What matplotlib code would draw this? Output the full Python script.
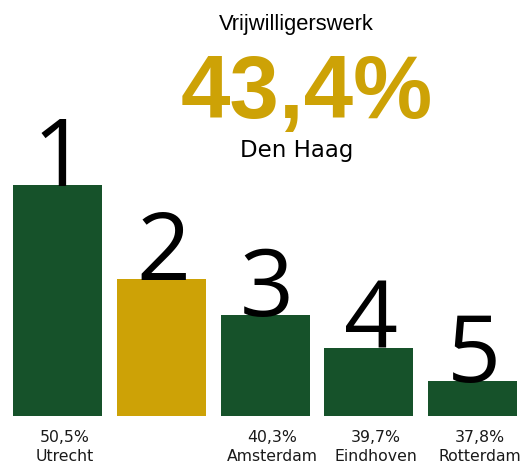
import matplotlib
matplotlib.use("Agg")
import matplotlib.pyplot as plt

# Data
cities = ["Utrecht", "Den Haag", "Amsterdam", "Eindhoven", "Rotterdam"]
values = [50.5, 43.4, 40.3, 39.7, 37.8]
ranks = ["1", "2", "3", "4", "5"]
# relative bar heights as drawn in the picture (not proportional to values)
bar_heights = [231, 137, 101, 68, 35]
highlight = "Den Haag"
title = "Vrijwilligerswerk"

GREEN = "#16522a"
GOLD = "#cda206"

W, H = 526, 464
fig = plt.figure(figsize=(W / 100, H / 100), dpi=100)
ax = fig.add_axes([0, 0, 1, 1])
ax.set_axis_off()

spacing = 103.65
x0 = 57.7
ax.set_xlim(-x0 / spacing, (W - x0) / spacing)
base_px = H - 417
ax.set_ylim(-base_px, H - base_px)

xs = list(range(len(cities)))
colors = [GOLD if c == highlight else GREEN for c in cities]
ax.bar(xs, bar_heights, width=89 / spacing, color=colors, align="center")

def fmt(v):
    return f"{v:.1f}".replace(".", ",") + "%"

for x, h, r, c, v in zip(xs, bar_heights, ranks, cities, values):
    ax.text(x + 0.02, h, r, ha="center", va="baseline", fontsize=68,
            family="Open Sans", color="black")
    if c != highlight:
        ax.text(x + 0.07, -25, fmt(v), ha="center", va="baseline",
                fontsize=11.3, family="DejaVu Sans", color="#1a1a1a")
        ax.text(x + 0.07, -44, c, ha="center", va="baseline",
                fontsize=11.3, family="DejaVu Sans", color="#1a1a1a")

def px(x, y):
    return x / W, 1 - y / H

hi = cities.index(highlight)
fig.text(*px(296.5, 30), title, ha="center", va="baseline", fontsize=15.8,
         family="Liberation Sans", color="black")
fig.text(*px(306.5, 118), fmt(values[hi]), ha="center", va="baseline",
         fontsize=64, family="Liberation Sans", fontweight="bold", color=GOLD)
fig.text(*px(296.5, 157), highlight, ha="center", va="baseline", fontsize=16.5,
         family="DejaVu Sans", color="black")

fig.savefig("out.png", dpi=100)
